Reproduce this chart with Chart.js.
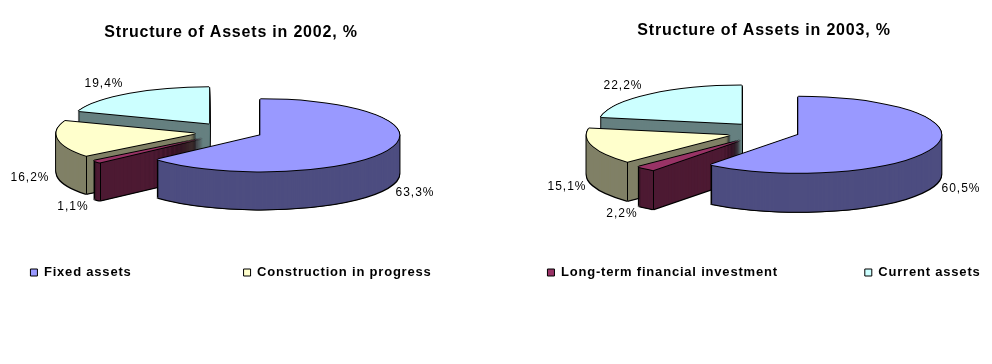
<!DOCTYPE html>
<html>
<head>
<meta charset="utf-8">
<title>Structure of Assets</title>
<script src="https://cdn.jsdelivr.net/npm/chart.js@4"></script>
<style>
    html, body { margin: 0; padding: 0; background: #fff; overflow: hidden; }
    canvas { position: absolute; top: 0; }
</style>
</head>
<body>
<!-- Lienzos mas anchos que el pastel: la leyenda necesita caber en una fila -->
<canvas id="chart2002" width="722" height="289" style="left:-130px"></canvas>
<canvas id="chart2003" width="664" height="289" style="left:432px"></canvas>
<script>
// Datos, en el orden en que van las porciones (sentido horario desde las 12)
const categories = ['Fixed assets', 'Long-term financial investment', 'Construction in progress', 'Current assets'];
const values2002 = [63.3, 1.1, 16.2, 19.4];
const values2003 = [60.5, 2.2, 15.1, 22.2];
const legend2002 = ['Fixed assets', 'Construction in progress'];
const legend2003 = ['Long-term financial investment', 'Current assets'];

const topColors = ['#9999FF', '#993366', '#FFFFCC', '#CCFFFF'];
const wallColors = ['#4D4D80', '#4D1A33', '#808066', '#668080'];

/** Pastel 3D: cada porcion se aplasta, se separa y se apila */
const pie3d = {
    id: 'pie3d',
    beforeLayout(chart) {
        chart.ctx.letterSpacing = chart.options.plugins.pie3d.spacing;
    },
    beforeDraw(chart) {
        chart.ctx.letterSpacing = chart.options.plugins.pie3d.spacing;
    },
    beforeDatasetsDraw(chart, args, o) {
        const ctx = chart.ctx;
        const arcs = chart.getDatasetMeta(0).data;
        for (let i = arcs.length - 1; i >= 0; i--) {
            const arc = arcs[i];
            const opts = arc.options;
            const mid = (arc.startAngle + arc.endAngle) / 2;
            const ox = o.cx - o.pageLeft + Math.cos(mid) * o.explode[i];
            const oy = o.cy + Math.sin(mid) * o.explode[i] * o.squash;

            const paint = (color, dx, dy) => {
                ctx.save();
                ctx.translate(ox + dx, oy + dy);
                ctx.scale(1, o.squash);
                ctx.translate(-arc.x, -arc.y);
                arc.options = Object.assign({}, opts, { backgroundColor: color, borderWidth: 0 });
                arc.draw(ctx);
                ctx.restore();
            };

            // contorno negro y pared
            for (let d = o.depth + 1; d >= 0; d--) {
                paint('#000', -1, d);
                paint('#000', 1, d);
            }
            for (let d = o.depth; d > 0; d--) paint(wallColors[i], 0, d);

            // aristas verticales de las esquinas que dan al frente
            ctx.strokeStyle = '#000';
            ctx.lineWidth = 1;
            for (const a of [arc.startAngle, arc.endAngle]) {
                if (Math.sin(a) > 0) {
                    const px = Math.round(ox + Math.cos(a) * arc.outerRadius) + 0.5;
                    const py = oy + Math.sin(a) * arc.outerRadius * o.squash;
                    ctx.beginPath();
                    ctx.moveTo(px, py);
                    ctx.lineTo(px, py + o.depth);
                    ctx.stroke();
                }
            }

            // cara superior
            paint('#000', -1, 0);
            paint('#000', 1, 0);
            paint('#000', 0, -1);
            paint('#000', 0, 1);
            paint(topColors[i], 0, 0);
            arc.options = opts;
        }
        return false;
    },
    afterDraw(chart, args, o) {
        const ctx = chart.ctx;
        const values = chart.data.datasets[0].data;
        ctx.save();
        ctx.font = '12px "Liberation Sans"';
        ctx.letterSpacing = '1px';
        ctx.fillStyle = '#000';
        ctx.textAlign = 'center';
        ctx.textBaseline = 'middle';
        values.forEach((v, i) => {
            ctx.fillText(v.toFixed(1).replace('.', ',') + '%', o.labelAt[i][0] - o.pageLeft, o.labelAt[i][1]);
        });
        ctx.restore();
    }
};

function crearPastel(id, title, values, legendItems, pie, legendGap) {
    new Chart(document.getElementById(id), {
        type: 'pie',
        data: {
            labels: categories,
            datasets: [{
                data: values,
                backgroundColor: topColors,
                borderColor: '#000',
                borderWidth: 1
            }]
        },
        options: {
            responsive: false,
            animation: false,
            radius: pie.radius,
            plugins: {
                pie3d: pie,
                tooltip: { enabled: false },
                title: {
                    display: true,
                    text: title,
                    color: '#000',
                    font: { family: '"Liberation Sans"', size: 16, weight: 'bold' },
                    padding: { top: pie.titleTop, bottom: 6 }
                },
                legend: {
                    position: 'bottom',
                    labels: {
                        color: '#000',
                        font: { family: '"Liberation Sans"', size: 13, weight: 'bold' },
                        boxWidth: 7,
                        boxHeight: 7,
                        padding: legendGap,
                        filter: item => legendItems.includes(item.text),
                        sort: (a, b) => legendItems.indexOf(a.text) - legendItems.indexOf(b.text)
                    }
                }
            }
        },
        plugins: [pie3d]
    });
}

crearPastel('chart2002', 'Structure of Assets in 2002, %', values2002, legend2002, {
    spacing: '0.8px', pageLeft: -130, radius: 139, squash: 0.26, depth: 38, cx: 232, cy: 132, titleTop: 23,
    explode: [31, 38, 37, 40],
    labelAt: [[415, 193], [73, 207], [30, 178], [104, 84]]
}, 112);

crearPastel('chart2003', 'Structure of Assets in 2003, %', values2003, legend2003, {
    spacing: '0.8px', pageLeft: 432, radius: 143, squash: 0.266, depth: 39, cx: 768, cy: 132, titleTop: 21,
    explode: [32, 41, 40, 41],
    labelAt: [[961, 189], [622, 214], [567, 187], [623, 86]]
}, 87);
</script>
</body>
</html>
